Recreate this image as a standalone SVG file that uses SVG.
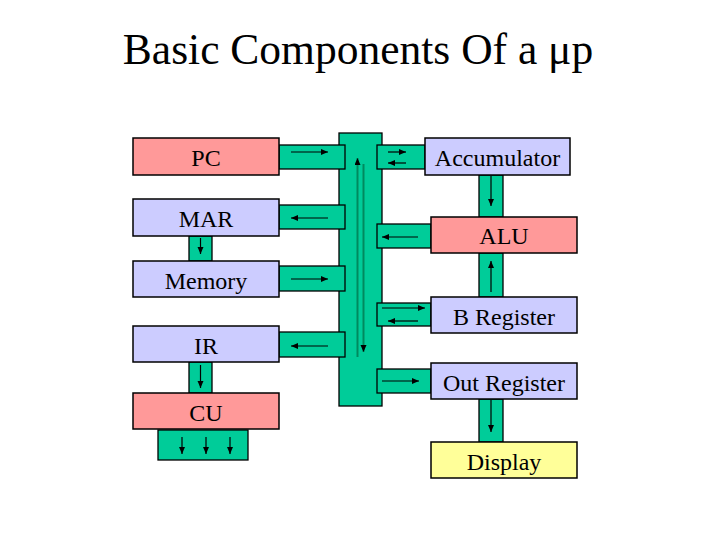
<svg xmlns="http://www.w3.org/2000/svg" width="728" height="546" viewBox="0 0 728 546">
<defs>
<marker id="ah" markerUnits="userSpaceOnUse" markerWidth="8" markerHeight="8" refX="7" refY="3" orient="auto">
<path d="M0,0 L7,3 L0,6 Z" fill="#000"/>
</marker>
</defs>
<style>
.box{stroke:#000;stroke-width:1.5}
.pink{fill:#ff9999}
.lav{fill:#ccccff}
.yel{fill:#ffff99}
.g{fill:#00cc99;stroke:#000;stroke-width:1.3}
.a{stroke:#000;stroke-width:1.2;fill:none;marker-end:url(#ah)}
.b{stroke:#008a5e;stroke-width:2;fill:none;marker-end:url(#ah)}
.t{font-family:"Liberation Serif","Times New Roman",serif;font-size:24px;fill:#000;text-anchor:middle}
.title{font-family:"Liberation Serif","Times New Roman",serif;font-size:43.5px;fill:#000;text-anchor:middle}
</style>
<rect width="728" height="546" fill="#fff"/>
<text class="title" x="358" y="64">Basic Components Of a μp</text>

<g id="connectors">
<rect id="bus" class="g" x="339" y="133" width="43" height="273"/>
<line class="b" x1="357.5" y1="357" x2="357.5" y2="158"/>
<line class="b" x1="363.5" y1="164" x2="363.5" y2="352"/>

<rect class="g" x="279" y="145" width="66" height="24"/>
<line class="a" x1="291" y1="152" x2="328" y2="152"/>
<rect class="g" x="279" y="205" width="66" height="24"/>
<line class="a" x1="328" y1="218" x2="291" y2="218"/>
<rect class="g" x="189" y="236" width="23" height="25"/>
<line class="a" x1="200.5" y1="238" x2="200.5" y2="254"/>
<rect class="g" x="279" y="266" width="66" height="25"/>
<line class="a" x1="291" y1="279" x2="328" y2="279"/>
<rect class="g" x="279" y="332" width="66" height="25"/>
<line class="a" x1="328" y1="346" x2="291" y2="346"/>
<rect class="g" x="189" y="362" width="23" height="31"/>
<line class="a" x1="200.5" y1="365" x2="200.5" y2="388"/>
<rect class="g" x="158" y="430" width="90" height="30"/>
<line class="a" x1="182" y1="437" x2="182" y2="454"/>
<line class="a" x1="206" y1="437" x2="206" y2="454"/>
<line class="a" x1="230" y1="437" x2="230" y2="454"/>

<rect class="g" x="377" y="145" width="48" height="24"/>
<line class="a" x1="388" y1="152" x2="406" y2="152"/>
<line class="a" x1="406" y1="163" x2="388" y2="163"/>
<rect class="g" x="479" y="175" width="24" height="42"/>
<line class="a" x1="491" y1="176" x2="491" y2="206"/>
<rect class="g" x="377" y="224" width="54" height="24"/>
<line class="a" x1="418" y1="237" x2="382" y2="237"/>
<rect class="g" x="479" y="253" width="24" height="44"/>
<line class="a" x1="491" y1="292" x2="491" y2="261"/>
<rect class="g" x="377" y="303" width="54" height="23"/>
<line class="a" x1="382" y1="308" x2="425" y2="308"/>
<line class="a" x1="418" y1="321" x2="388" y2="321"/>
<rect class="g" x="377" y="369" width="54" height="24"/>
<line class="a" x1="382" y1="381" x2="419" y2="381"/>
<rect class="g" x="479" y="399" width="24" height="43"/>
<line class="a" x1="491" y1="400" x2="491" y2="432"/>
</g>

<g id="pc"><rect class="box pink" x="133" y="138" width="146" height="37"/><text class="t" x="206" y="166">PC</text></g>
<g id="mar"><rect class="box lav" x="133" y="199" width="146" height="37"/><text class="t" x="206" y="227">MAR</text></g>
<g id="memory"><rect class="box lav" x="133" y="261" width="146" height="36"/><text class="t" x="206" y="289">Memory</text></g>
<g id="ir"><rect class="box lav" x="133" y="326" width="146" height="36"/><text class="t" x="206" y="354">IR</text></g>
<g id="cu"><rect class="box pink" x="133" y="393" width="146" height="36"/><text class="t" x="206" y="421">CU</text></g>
<g id="accumulator"><rect class="box lav" x="425" y="138" width="145" height="37"/><text class="t" x="497.5" y="166">Accumulator</text></g>
<g id="alu"><rect class="box pink" x="431" y="217" width="146" height="36"/><text class="t" x="504" y="244">ALU</text></g>
<g id="breg"><rect class="box lav" x="431" y="297" width="146" height="36"/><text class="t" x="504" y="325">B Register</text></g>
<g id="outreg"><rect class="box lav" x="431" y="363" width="146" height="36"/><text class="t" x="504" y="391">Out Register</text></g>
<g id="display"><rect class="box yel" x="431" y="442" width="146" height="36"/><text class="t" x="504" y="470">Display</text></g>
</svg>
